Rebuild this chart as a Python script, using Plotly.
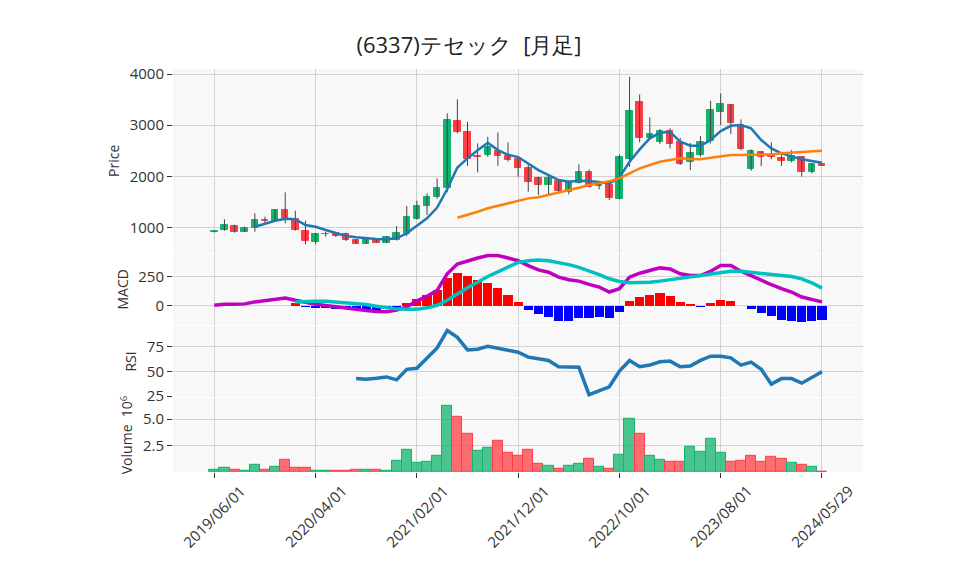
import plotly.graph_objects as go
from plotly.subplots import make_subplots

# ---------------- data (monthly, index 0 = 2019/06) ----------------
tick_pos = [0, 10, 20, 30, 40, 50, 60]
tick_labels = ["2019/06/01", "2020/04/01", "2021/02/01", "2021/12/01",
               "2022/10/01", "2023/08/01", "2024/05/29"]

opens = [905, 947, 1025, 914, 980, 1140, 1130, 1338, 1156, 928,
         712, 865, 883, 869, 751, 683, 765, 700, 751, 869,
         1162, 1423, 1599, 1763, 3080, 2871, 2395, 2415, 2487, 2401,
         2331, 2166, 1965, 1834, 1912, 1697, 1873, 2076, 1814, 1828,
         1560, 2336, 3452, 2753, 2675, 2885, 2663, 2272, 2421, 2689,
         3250, 3393, 3002, 2135, 2468, 2415, 2362, 2303, 2370, 2088,
         2233]
highs = [935, 1157, 1050, 1012, 1274, 1207, 1350, 1685, 1325, 1130,
         890, 914, 905, 895, 760, 810, 790, 830, 1025, 1417,
         1521, 1665, 1959, 3231, 3505, 3067, 2644, 2773, 2859, 2663,
         2400, 2252, 1990, 2023, 1925, 1925, 2233, 2135, 1870, 1870,
         2428, 3947, 3603, 3153, 2924, 2937, 2753, 2650, 2787, 3478,
         3622, 3413, 3113, 2526, 2480, 2663, 2428, 2513, 2390, 2252,
         2240]
lows = [900, 930, 894, 905, 914, 1065, 1125, 1078, 934, 667,
        667, 816, 810, 730, 680, 680, 695, 695, 740, 830,
        1150, 1241, 1560, 1685, 2840, 2200, 2076, 2380, 2205, 2290,
        1990, 1697, 1632, 1652, 1665, 1646, 1860, 1780, 1743, 1534,
        1548, 2186, 2663, 2722, 2630, 2546, 2219, 2121, 2382, 2644,
        3002, 2826, 2513, 2108, 2200, 2331, 2200, 2272, 1990, 2057,
        2200]
closes = [925, 1045, 914, 992, 1143, 1125, 1338, 1176, 947, 738,
          869, 872, 836, 751, 683, 784, 700, 804, 895, 1207,
          1423, 1599, 1775, 3100, 2871, 2336, 2382, 2565, 2395, 2317,
          2155, 1892, 1834, 1965, 1716, 1873, 2076, 1795, 1853, 1579,
          2370, 3276, 2753, 2826, 2885, 2624, 2239, 2448, 2663, 3295,
          3413, 3035, 2526, 2493, 2382, 2378, 2303, 2401, 2088, 2239,
          2205]

ma5 = [None, None, None, None, 1012, 1078, 1130, 1168, 1156, 1045,
       1012, 947, 883, 830, 804, 785, 771, 765, 785, 883,
       1025, 1176, 1388, 1750, 2170, 2350, 2507, 2656, 2513, 2420,
       2376, 2252, 2121, 2023, 1925, 1892, 1912, 1906, 1880, 1861,
       1978, 2284, 2526, 2742, 2851, 2871, 2675, 2597, 2597, 2708,
       2885, 2988, 3002, 2937, 2708, 2546, 2448, 2382, 2331, 2297,
       2264]
ma25 = [None] * 24 + [1188, 1241, 1305, 1372, 1423, 1470,
                      1525, 1567, 1587, 1632, 1677, 1730, 1775, 1828, 1861, 1900,
                      1959, 2057, 2155, 2219, 2284, 2317, 2350, 2336, 2331, 2362,
                      2395, 2415, 2415, 2415, 2415, 2428, 2448, 2460, 2473, 2487,
                      2500]

macd = [2, 11, 11, 14, 31, 42, 60, 65, 45, 25,
        11, 0, -12, -23, -34, -43, -51, -54, -40, -12,
        40, 79, 130, 273, 358, 386, 409, 431, 431, 409,
        386, 344, 307, 287, 244, 222, 210, 182, 159, 116,
        145, 244, 278, 301, 324, 315, 273, 258, 258, 295,
        344, 344, 295, 258, 216, 179, 145, 116, 73, 51,
        31]
signal = [None] * 8 + [31, 37,
                       37, 37, 31, 25, 14, 8, -6, -17, -29, -32,
                       -32, -20, 2, 45, 102, 153, 201, 250, 290, 335,
                       372, 386, 392, 386, 372, 352, 329, 301, 267, 230,
                       207, 196, 196, 201, 210, 222, 233, 244, 258, 273,
                       287, 295, 295, 287, 278, 273, 264, 250, 230, 196,
                       150]
hist = [None] * 8 + [25, -3,
                     -15, -15, -25, -30, -35, -35, -40, -30, -15, 22,
                     60, 96, 136, 244, 287, 258, 222, 199, 156, 96,
                     37, -32, -68, -97, -125, -125, -106, -106, -97, -106,
                     -54, 45, 79, 96, 108, 88, 37, 11, -6, 26,
                     54, 45, 0, -28, -63, -88, -117, -125, -140, -131,
                     -117]

rsi = [None] * 14 + [42.6, 42.0, 43.0, 44.3, 41.3, 52.0,
                     53.0, 63.0, 73.6, 91.3, 84.3, 71.6, 72.3, 75.3, 73.6, 71.3,
                     69.3, 64.3, 62.6, 61.0, 54.6, 54.6, 54.0, 26.3, 30.3, 34.3,
                     50.3, 61.0, 54.6, 56.3, 59.6, 60.3, 54.6, 55.3, 61.0, 65.3,
                     65.3, 63.6, 56.3, 59.3, 52.0, 37.0, 42.6, 42.6, 38.0, 43.6,
                     49.6]

volume_m = [0.25, 0.44, 0.25, 0.16, 0.72, 0.25, 0.53, 1.19, 0.44, 0.44,
            0.16, 0.16, 0.16, 0.16, 0.25, 0.25, 0.25, 0.16, 1.10, 2.12,
            0.90, 1.00, 1.56, 6.24, 5.20, 3.60, 2.03, 2.31, 2.97, 1.84,
            1.56, 2.12, 0.81, 0.62, 0.34, 0.62, 0.81, 1.28, 0.53, 0.34,
            1.65, 5.02, 3.60, 1.56, 1.19, 1.00, 1.00, 2.40, 1.93, 3.15,
            1.84, 1.00, 1.10, 1.56, 1.00, 1.47, 1.28, 0.90, 0.72, 0.53,
            0.06]

x_idx = list(range(len(closes)))

# ---------------- styles ----------------
UP = "#12b36c"
DOWN = "#ff3d44"
VOL_UP = "rgba(18,180,108,0.75)"
VOL_DOWN = "rgba(255,61,68,0.75)"
WICK = "#444444"
GRID = "#d2d2d2"
BG = "#f8f8f8"
FONT = "Open Sans, verdana, arial, sans-serif"
TXT = "#333333"

fig = make_subplots(rows=4, cols=1, shared_xaxes=True, vertical_spacing=0.003)

# wicks
wx, wy = [], []
for i, (h, l) in enumerate(zip(highs, lows)):
    wx += [i, i, None]
    wy += [l, h, None]
fig.add_trace(go.Scatter(x=wx, y=wy, mode="lines", line=dict(color=WICK, width=1),
                         hoverinfo="skip", showlegend=False), row=1, col=1)

# candle bodies
body_base = [min(o, c) for o, c in zip(opens, closes)]
body_h = [abs(c - o) for o, c in zip(opens, closes)]
body_col = [UP if c >= o else DOWN for o, c in zip(opens, closes)]
fig.add_trace(go.Bar(x=x_idx, y=body_h, base=body_base, width=0.64,
                     marker=dict(color=body_col, line=dict(color=body_col, width=1)),
                     showlegend=False), row=1, col=1)

fig.add_trace(go.Scatter(x=x_idx, y=ma5, mode="lines",
                         line=dict(color="#1f77b4", width=2.5), showlegend=False), row=1, col=1)
fig.add_trace(go.Scatter(x=x_idx, y=ma25, mode="lines",
                         line=dict(color="#ff7f0e", width=2.5), showlegend=False), row=1, col=1)

# MACD
hist_col = ["#ff0000" if (v is not None and v >= 0) else "#0000ff" for v in hist]
fig.add_trace(go.Bar(x=x_idx, y=hist, width=0.9, marker=dict(color=hist_col, line=dict(width=0)),
                     showlegend=False), row=2, col=1)
fig.add_trace(go.Scatter(x=x_idx, y=macd, mode="lines",
                         line=dict(color="#c000c0", width=3.5), showlegend=False), row=2, col=1)
fig.add_trace(go.Scatter(x=x_idx, y=signal, mode="lines",
                         line=dict(color="#00c0c0", width=3.5), showlegend=False), row=2, col=1)

# RSI
fig.add_trace(go.Scatter(x=x_idx, y=rsi, mode="lines",
                         line=dict(color="#1f77b4", width=3.5), showlegend=False), row=3, col=1)

# Volume
vol_col = []
for i, c in enumerate(closes):
    prev = opens[0] if i == 0 else closes[i - 1]
    vol_col.append(VOL_UP if c > prev else VOL_DOWN)
vol_line = [UP if col == VOL_UP else DOWN for col in vol_col]
fig.add_trace(go.Bar(x=x_idx, y=volume_m, width=1.0,
                     marker=dict(color=vol_col, line=dict(color=vol_line, width=1)),
                     showlegend=False), row=4, col=1)

# ---------------- layout ----------------
H = 403.0
doms = {
    "yaxis": [219.3 / H, 1.0],
    "yaxis2": [147.0 / H, 219.3 / H - 0.002],
    "yaxis3": [75.0 / H, 147.0 / H - 0.002],
    "yaxis4": [0.0, 75.0 / H - 0.002],
}
xr = [-4.08, 64.05]
for k in ["xaxis", "xaxis2", "xaxis3", "xaxis4"]:
    fig.layout[k].update(range=xr, tickmode="array", tickvals=tick_pos,
                         showgrid=True, gridcolor=GRID, gridwidth=1, zeroline=False,
                         showline=False, showticklabels=False)
for k in ["xaxis", "xaxis2", "xaxis3"]:
    fig.layout[k].update(ticks="")
fig.layout["xaxis4"].update(ticks="outside", ticklen=5, tickcolor=TXT)

# centred, rotated date labels (as in the original)
for pos, lab in zip(tick_pos, tick_labels):
    fig.add_annotation(x=pos, xref="x4", y=0, yref="paper", yshift=-44,
                       text=lab, textangle=-45, showarrow=False,
                       xanchor="center", yanchor="middle",
                       font=dict(size=15, color=TXT, family=FONT))

common_y = dict(showgrid=True, gridcolor=GRID, gridwidth=1, zeroline=False, showline=False,
                ticks="outside", ticklen=5, tickcolor=TXT,
                tickfont=dict(size=15, color=TXT), title_font=dict(size=14, color=TXT),
                title_standoff=6)
fig.layout["yaxis"].update(domain=doms["yaxis"], range=[503, 4100], tickvals=[1000, 2000, 3000, 4000],
                           title_text="Price", **common_y)
fig.layout["yaxis2"].update(domain=doms["yaxis2"], range=[-168, 448], tickvals=[0, 250],
                            title_text="MACD", **common_y)
fig.layout["yaxis3"].update(domain=doms["yaxis3"], range=[24, 96], tickvals=[25, 50, 75],
                            title_text="RSI", **common_y)
fig.layout["yaxis4"].update(domain=doms["yaxis4"], range=[0, 7.0], tickvals=[2.5, 5.0],
                            ticktext=["2.5", "5.0"], title_text="Volume  10<sup>6</sup>", **common_y)

# page body adds an 8px offset; compensate in margins
fig.update_layout(
    width=958, height=575,
    margin=dict(l=165, r=103, t=61, b=111),
    paper_bgcolor="white", plot_bgcolor=BG,
    font=dict(family=FONT, size=14, color=TXT),
    barmode="overlay", bargap=0,
    showlegend=False,
    title=dict(text="(6337)テセック  [月足]", x=461 / 958, xanchor="center",
               y=1 - 37 / 575, yanchor="middle", font=dict(size=22, color="#222")),
)

fig.write_html("out.html")
